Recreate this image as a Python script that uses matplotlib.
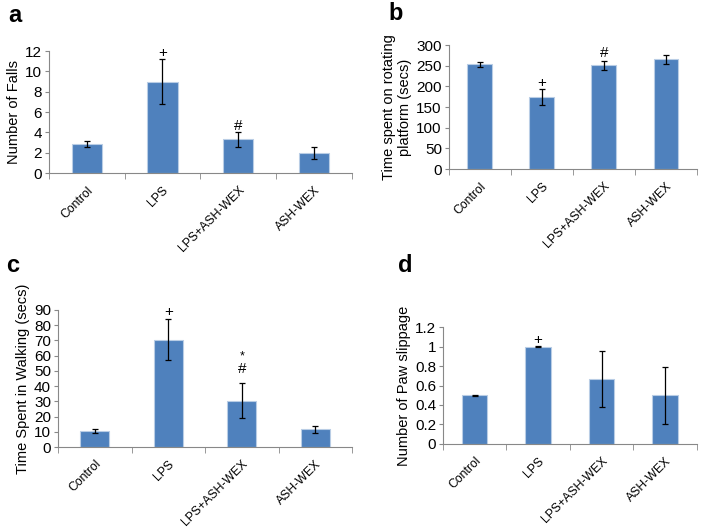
import matplotlib.pyplot as plt
import matplotlib.transforms as mtransforms
import numpy as np

plt.rcParams['font.family'] = ['Liberation Sans', 'DejaVu Sans']

groups = ['Control', 'LPS', 'LPS+ASH-WEX', 'ASH-WEX']

falls = [2.85, 9.0, 3.3, 2.0]
falls_err = [0.3, 2.2, 0.7, 0.6]

rot_time = [254, 175, 251, 266]
rot_err = [6, 19, 11, 11]

walk_time = [10.5, 70.5, 30.5, 11.5]
walk_err = [1.0, 13.5, 11.5, 2.0]

paw = [0.5, 1.0, 0.667, 0.5]
paw_err = [0.003, 0.004, 0.29, 0.29]

# significance marks: (bar index, text, offset above error bar as fraction of y-range)
marks_a = [(1, '+', 0.05), (2, '#', 0.05)]
marks_b = [(1, '+', 0.05), (2, '#', 0.065)]
marks_c = [(1, '+', 0.05), (2, '#', 0.10), (2, '*', 0.195)]
marks_d = [(1, '+', 0.05)]

bar_color = '#4F81BD'
axis_color = '#888888'

fig = plt.figure(figsize=(7.09, 5.27), dpi=100)


def panel(rect, vals, errs, ylim, yticks, ylabel, marks, tick_fmt=None):
    ax = fig.add_axes(rect)
    x = np.arange(len(groups))
    ax.bar(x, vals, width=0.4, color=bar_color, edgecolor='#B9CDE5', linewidth=0.8, zorder=2)
    ax.errorbar(x, vals, yerr=errs, fmt='none', ecolor='black', elinewidth=0.9,
                capsize=2.5, capthick=0.9, zorder=3)
    ax.set_xlim(-0.5, len(groups) - 0.5)
    ax.set_ylim(*ylim)
    ax.set_yticks(yticks)
    if tick_fmt:
        ax.set_yticklabels([tick_fmt(t) for t in yticks])
    ax.set_xticks(x)
    ax.set_xticklabels(groups, rotation=45, ha='right', rotation_mode='anchor', fontsize=8.8)
    shift = mtransforms.ScaledTranslation(6 / 100, 0, fig.dpi_scale_trans)
    for lab in ax.get_xticklabels():
        lab.set_transform(lab.get_transform() + shift)
    ax.tick_params(axis='x', length=0, pad=8)
    ax.set_xticks(np.arange(-0.5, len(groups)), minor=True)
    ax.tick_params(axis='x', which='minor', length=4, color=axis_color, direction='out')
    ax.tick_params(axis='y', length=3, color=axis_color, labelsize=11, pad=2)
    for s in ['top', 'right']:
        ax.spines[s].set_visible(False)
    for s in ['left', 'bottom']:
        ax.spines[s].set_color(axis_color)
        ax.spines[s].set_linewidth(0.8)
    ax.set_ylabel(ylabel, fontsize=10.5, labelpad=3)
    span = ylim[1] - ylim[0]
    for i, txt, off in marks:
        y = vals[i] + errs[i] + span * off
        ax.text(i, y, txt, ha='center', va='center', fontsize=9 if txt == '*' else 11, zorder=4)
    return ax


def fmt_paw(t):
    return '0' if t == 0 else ('1' if abs(t - 1) < 1e-9 else f'{t:.1f}')


panel([0.069, 0.6717, 0.427, 0.2315], falls, falls_err, (0, 12), range(0, 13, 2),
      'Number of Falls', marks_a)
panel([0.633, 0.679, 0.350, 0.2353], rot_time, rot_err, (0, 300), range(0, 301, 50),
      'Time spent on rotating\nplatform (secs)', marks_b)
panel([0.0818, 0.1518, 0.4147, 0.26], walk_time, walk_err, (0, 90), range(0, 91, 10),
      'Time Spent in Walking (secs)', marks_c)
panel([0.6248, 0.1575, 0.358, 0.222], paw, paw_err, (0, 1.2), np.arange(0, 1.21, 0.2),
      'Number of Paw slippage', marks_d, tick_fmt=fmt_paw)

for lbl, x, y in [('a', 8, 22), ('b', 388, 20), ('c', 6, 272), ('d', 398, 272)]:
    fig.text(x / 709, 1 - y / 527, lbl, fontsize=17, fontweight='bold', ha='left', va='baseline')

fig.savefig('out.png', dpi=100, facecolor='white')
